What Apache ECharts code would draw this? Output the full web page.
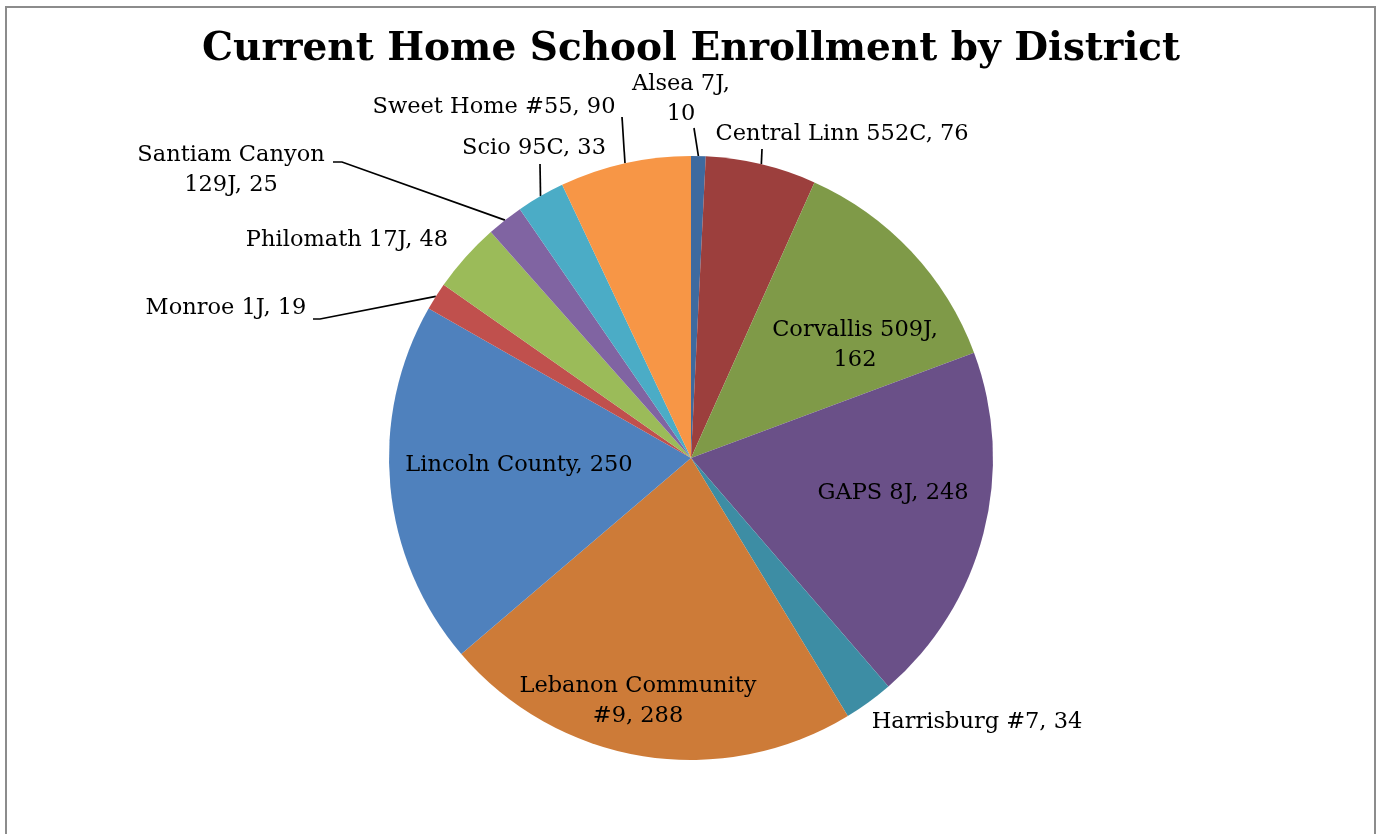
<!DOCTYPE html>
<html>
<head>
<meta charset="utf-8">
<script src="https://cdn.jsdelivr.net/npm/echarts@6/dist/echarts.min.js"></script>
<style>
  html, body { margin: 0; padding: 0; background: #fff; overflow: hidden; }
  #frame { position: absolute; left: 5px; top: 6px; width: 1371px; height: 900px;
           border: 2px solid #8c8c8c; box-sizing: border-box; }
  #chart { position: absolute; left: 0; top: 0; width: 1382px; height: 834px; }
</style>
</head>
<body>
<div id="frame"></div>
<div id="chart"></div>
<script>
// ---- data ----
const categories = ['Alsea 7J', 'Central Linn 552C', 'Corvallis 509J', 'GAPS 8J', 'Harrisburg #7',
  'Lebanon Community\n#9', 'Lincoln County', 'Monroe 1J', 'Philomath 17J', 'Santiam Canyon\n129J',
  'Scio 95C', 'Sweet Home #55'];
const values = [10, 76, 162, 248, 34, 288, 250, 19, 48, 25, 33, 90];
const colors = ['#3E6A9F', '#9C3F3D', '#7F9A48', '#6A5088', '#3D8DA4', '#CD7B38',
  '#4F81BD', '#C0504D', '#9BBB59', '#8064A2', '#4BACC6', '#F79646'];
// separator between name and value (line break after comma for some)
const separators = [',\n', ', ', ',\n', ', ', ', ', ', ', ', ', ', ', ', ', ', ', ', ', ', '];
const insideLabel = [false, false, true, true, false, true, true, false, false, false, false, false];
const showLine = [true, true, false, false, false, false, false, true, false, true, true, true];

// ---- label layout (label centres and leader line bends) ----
const labelPos = [[681, 99], [842, 134], [855, 345], [893, 493], [977, 722], [638, 701],
  [519, 465], [226, 308], [347, 240], [231, 170], [534, 148], [494, 107]];
const lineBends = [[[694, 128], [694, 128]], [[762, 149], [762, 149]], null, null, null, null, null,
  [[320, 319], [313, 319]], null, [[342, 162], [333, 162]], [[540, 164], [540, 164]], [[622, 117], [622, 117]]];

const FONT = '"DejaVu Serif", "Liberation Serif", serif';

const chart = echarts.init(document.getElementById('chart'), null, { renderer: 'canvas' });
chart.setOption({
  backgroundColor: 'transparent',
  animation: false,
  title: {
    text: 'Current Home School Enrollment by District',
    left: 'center', top: 25,
    textStyle: { fontFamily: FONT, fontWeight: 'bold', fontSize: 39, color: '#000' }
  },
  series: [{
    type: 'pie',
    center: [691, 458],
    radius: 302,
    startAngle: 90,
    clockwise: true,
    avoidLabelOverlap: false,
    data: categories.map((c, i) => ({
      name: c, value: values[i],
      itemStyle: { color: colors[i] },
      label: { position: insideLabel[i] ? 'inside' : 'outside' },
      labelLine: { show: showLine[i] }
    })),
    itemStyle: { borderWidth: 0 },
    label: {
      show: true,
      fontFamily: FONT, fontSize: 22.5, color: '#000', lineHeight: 30,
      align: 'center',
      formatter: p => p.name + separators[p.dataIndex] + p.value
    },
    labelLine: { lineStyle: { color: '#000', width: 1.7 }, length: 10, length2: 5 },
    labelLayout: function (p) {
      const i = p.dataIndex;
      const out = { x: labelPos[i][0], y: labelPos[i][1], align: 'center', verticalAlign: 'middle' };
      if (lineBends[i] && p.labelLinePoints) {
        out.labelLinePoints = [p.labelLinePoints[0], lineBends[i][0], lineBends[i][1]];
      }
      return out;
    }
  }]
});
</script>
</body>
</html>
